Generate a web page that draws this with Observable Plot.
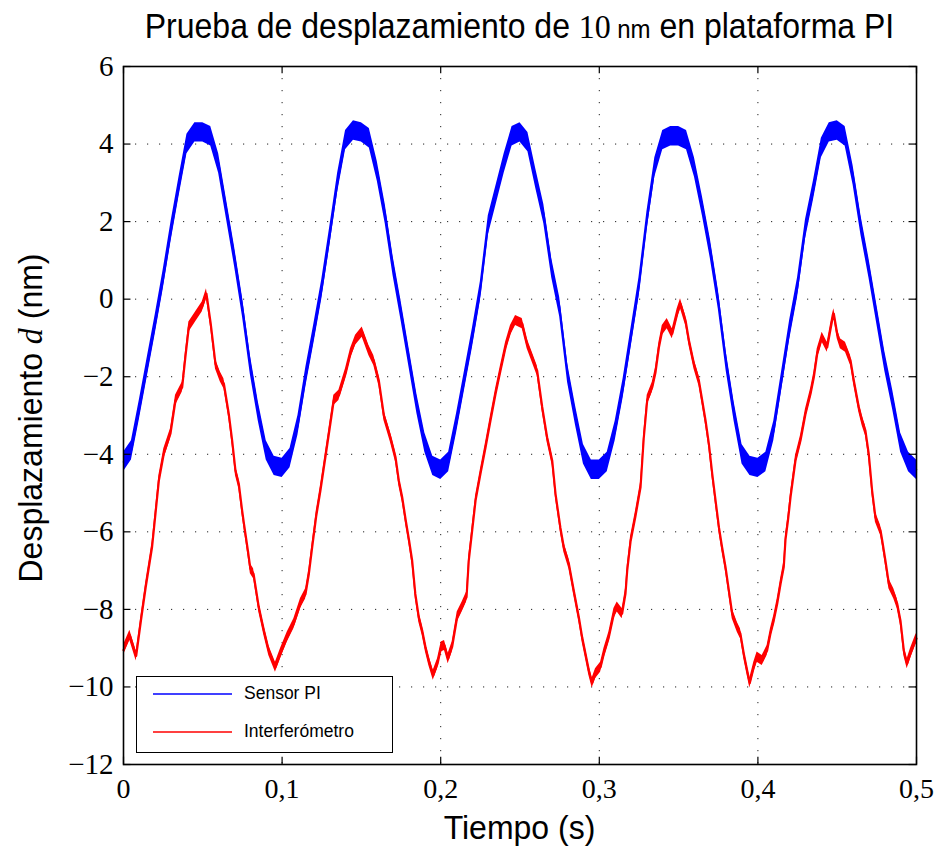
<!DOCTYPE html>
<html><head><meta charset="utf-8">
<script src="https://cdn.jsdelivr.net/npm/d3@7"></script>
<script src="https://cdn.jsdelivr.net/npm/@observablehq/plot@0.6"></script>
<style>
body{margin:0;background:#fff;}
#wrap{position:relative;width:939px;height:848px;overflow:hidden;background:#fff;}
#chart{position:absolute;left:0;top:0;}
.lbl{position:absolute;white-space:nowrap;font-family:"Liberation Sans",Arial,sans-serif;color:#000;}
#title{left:519.5px;top:27px;transform:translate(-50%,-50%) scaleY(1.08);font-size:32px;}
#xlab{left:519.5px;top:828px;transform:translate(-50%,-50%) scaleY(1.05);font-size:32px;}
#ylab{left:31px;top:418px;transform:translate(-50%,-50%) rotate(-90deg) scaleY(1.05);font-size:32px;}
.serif{font-family:"Liberation Serif","Times New Roman",serif;}
#legend{position:absolute;left:136px;top:676px;width:255px;height:75px;border:1.5px solid #000;background:#fff;}
.lrow{position:absolute;left:0;height:20px;}
.lrow svg{position:absolute;left:16px;top:0;}
.lrow span{position:absolute;left:107px;top:-1px;font-family:"Liberation Sans",Arial,sans-serif;font-size:17.5px;white-space:nowrap;}
</style></head>
<body>
<div id="wrap">
<div id="chart"></div>
<div id="title" class="lbl">Prueba de desplazamiento de <span class="serif">10</span>&#8201;<span style="font-size:24px">nm</span> en plataforma PI</div>
<div id="ylab" class="lbl">Desplazamiento <span class="serif" style="font-style:italic">d</span> (nm)</div>
<div id="xlab" class="lbl">Tiempo (s)</div>
<div id="legend"></div>
</div>
<script>
// ---- data ----
const seriesNames = ["Sensor PI", "Interferómetro"];
const seriesColors = ["#0000ff", "#ff0000"];
const xTicks = [0, 0.1, 0.2, 0.3, 0.4, 0.5];
const yTicks = [-12, -10, -8, -6, -4, -2, 0, 2, 4, 6];
const xTickLabels = ["0", "0,1", "0,2", "0,3", "0,4", "0,5"];
const yTickLabels = ["−12", "−10", "−8", "−6", "−4", "−2", "0", "2", "4", "6"];

const sensorTime = [0,0.005,0.01,0.015,0.02,0.025,0.03,0.035,0.04,0.045,0.05,0.055,0.06,0.065,0.07,0.075,0.08,0.085,0.09,0.095,
0.1,0.105,0.11,0.115,0.12,0.125,0.13,0.135,0.14,0.145,0.15,0.155,0.16,0.165,0.17,0.175,0.18,0.185,0.19,0.195,
0.2,0.205,0.21,0.215,0.22,0.225,0.23,0.235,0.24,0.245,0.25,0.255,0.26,0.265,0.27,0.275,0.28,0.285,0.29,0.295,
0.3,0.305,0.31,0.315,0.32,0.325,0.33,0.335,0.34,0.345,0.35,0.355,0.36,0.365,0.37,0.375,0.38,0.385,0.39,0.395,
0.4,0.405,0.41,0.415,0.42,0.425,0.43,0.435,0.44,0.445,0.45,0.455,0.46,0.465,0.47,0.475,0.48,0.485,0.49,0.495,0.5];
const sensorValue = [-4.2,-3.9,-2.85,-1.75,-0.65,0.5,1.75,2.9,4.0,4.3,4.3,4.2,3.5,2.3,1.1,-0.2,-1.7,-2.9,-3.9,-4.3,
-4.35,-4.1,-3.25,-2.0,-0.9,0.25,1.6,3.0,4.1,4.35,4.3,4.15,3.3,2.2,0.85,-0.3,-1.5,-2.7,-3.7,-4.3,
-4.4,-4.2,-3.2,-2.1,-1.0,0.2,1.9,2.7,3.5,4.2,4.3,4.05,3.1,2.2,0.8,-0.2,-1.9,-3.0,-4.0,-4.4,
-4.4,-4.2,-3.4,-2.3,-1.0,0.3,2.0,3.4,4.1,4.2,4.2,4.1,3.4,2.4,1.3,0.0,-1.6,-2.9,-4.0,-4.3,
-4.35,-4.2,-3.4,-2.1,-0.8,0.3,1.8,2.8,3.9,4.3,4.35,4.2,3.2,1.9,0.8,-0.4,-1.6,-2.6,-3.7,-4.2,-4.4];
const sensorNoise = 0.25;

const interfTime = [0,0.004,0.008,0.011,0.014,0.018,0.0223,0.0254,0.0296,0.0328,0.037,0.039,0.0412,0.0454,0.0496,0.0523,0.055,0.058,0.061,0.0633,
0.0664,0.0685,0.0706,0.0727,0.0748,0.076,0.0785,0.08,0.082,0.0853,0.0885,0.0916,0.0958,0.099,0.1032,0.1074,0.1116,0.1148,0.1169,0.119,
0.1215,0.1242,0.1295,0.1326,0.1358,0.14,0.1431,0.1463,0.1505,0.1547,0.1578,0.161,0.1642,0.1683,0.1715,0.1736,0.1757,0.178,0.18,0.182,
0.184,0.1862,0.1883,0.1904,0.1925,0.1953,0.198,0.2003,0.2024,0.2047,0.2072,0.2104,0.2135,0.2163,0.2177,0.2199,0.222,0.2251,0.2283,0.2314,
0.2346,0.2377,0.2409,0.244,0.2472,0.2514,0.2545,0.2577,0.2608,0.264,0.2671,0.2703,0.2724,0.2755,0.2776,0.2808,0.2839,0.2871,0.2892,0.2913,
0.2934,0.2955,0.2976,0.3008,0.3029,0.306,0.3092,0.3113,0.3144,0.3165,0.3176,0.3197,0.3228,0.326,0.328,0.3302,0.3334,0.3354,0.3376,0.3397,
0.3428,0.346,0.3491,0.3512,0.3544,0.3565,0.3597,0.3628,0.3649,0.367,0.3691,0.3712,0.3733,0.3755,0.3774,0.3796,0.3817,0.3838,0.387,0.389,
0.3911,0.3932,0.3949,0.3974,0.3995,0.4027,0.4058,0.4079,0.41,0.4122,0.4143,0.4163,0.4174,0.419,0.4206,0.4237,0.4269,0.43,0.4332,0.4353,
0.4374,0.4405,0.4437,0.4468,0.4479,0.45,0.452,0.4552,0.4584,0.4605,0.4636,0.4657,0.4678,0.4699,0.472,0.4741,0.4773,0.4784,0.4804,0.4826,
0.4857,0.4878,0.4899,0.492,0.4941,0.4962,0.4994,0.5];
const interfValue = [-9.05,-8.67,-9.2,-8.29,-7.43,-6.4,-4.68,-3.99,-3.47,-2.61,-2.27,-1.5,-0.72,-0.46,-0.2,0.14,-0.63,-1.67,-2.0,-2.18,
-2.96,-3.64,-4.42,-4.76,-5.45,-5.8,-6.5,-6.95,-7.08,-7.94,-8.54,-9.06,-9.49,-9.14,-8.72,-8.37,-7.85,-7.6,-7.08,-6.39,
-5.6,-4.93,-3.47,-2.61,-2.48,-1.92,-1.41,-1.06,-0.85,-1.32,-1.58,-2.1,-3.0,-3.56,-4.07,-4.68,-5.1,-5.71,-6.2,-6.74,
-7.6,-8.2,-8.54,-8.97,-9.32,-9.7,-9.4,-8.97,-8.93,-9.27,-8.97,-8.2,-7.94,-7.68,-6.74,-5.95,-5.19,-4.5,-3.82,-3.13,
-2.44,-1.84,-1.24,-0.81,-0.55,-0.63,-1.15,-1.5,-1.84,-2.78,-3.56,-4.16,-5.02,-5.9,-6.39,-6.82,-7.51,-8.2,-8.72,-9.14,
-9.57,-9.9,-9.66,-9.49,-9.14,-8.72,-8.11,-7.94,-8.11,-7.6,-7.0,-6.25,-5.6,-4.85,-3.6,-2.61,-2.27,-1.9,-1.24,-0.81,
-0.63,-0.89,-0.38,-0.12,-0.55,-1.06,-1.67,-2.1,-2.61,-3.13,-3.73,-4.5,-5.19,-5.9,-6.39,-6.91,-7.51,-8.11,-8.46,-8.63,
-9.14,-9.57,-9.9,-9.49,-9.23,-9.32,-9.06,-8.63,-8.29,-7.85,-7.34,-6.91,-6.2,-5.7,-5.1,-4.16,-3.64,-2.96,-2.44,-2.01,
-1.41,-0.98,-1.24,-0.55,-0.38,-0.89,-1.15,-1.24,-1.58,-2.1,-2.78,-3.13,-3.39,-3.99,-4.93,-5.62,-5.96,-6.22,-6.74,-7.34,
-7.6,-7.85,-8.29,-9.06,-9.4,-9.14,-8.8,-8.75];
const interfNoise = 0.13;

// ---- build tables ----
const sensor = sensorTime.map((t, i) => ({t, v: sensorValue[i]}));
const interf = interfTime.map((t, i) => ({t, v: interfValue[i]}));
const xGrid = xTicks.slice(1, -1);
const yGrid = yTicks.slice(1, -1);
const xLab = new Map(xTicks.map((d, i) => [d, xTickLabels[i]]));
const yLab = new Map(yTicks.map((d, i) => [d, yTickLabels[i]]));

const X0 = 0, X1 = 0.5, Y0 = -12, Y1 = 6;
const tickLenX = 0.0047, tickLenY = 0.19;
const serif = "'Liberation Serif','Times New Roman',serif";

const chart = Plot.plot({
  width: 939, height: 848,
  marginLeft: 123, marginRight: 23, marginTop: 66, marginBottom: 84,
  style: {background: "white", overflow: "visible"},
  x: {domain: [X0, X1]},
  y: {domain: [Y0, Y1]},
  marks: [
    Plot.ruleX(xGrid, {stroke: "#222", strokeWidth: 1, strokeDasharray: "1.2,10.8"}),
    Plot.ruleY(yGrid, {stroke: "#222", strokeWidth: 1, strokeDasharray: "1.2,10.8"}),
    Plot.areaY(sensor, {x: "t", y1: d => d.v - sensorNoise, y2: d => d.v + sensorNoise, fill: seriesColors[0], curve: "linear"}),
    Plot.line(sensor, {x: "t", y: "v", stroke: seriesColors[0], strokeWidth: 1.6}),
    Plot.areaY(interf, {x: "t", y1: d => d.v - interfNoise, y2: d => d.v + interfNoise, fill: seriesColors[1], curve: "linear"}),
    Plot.line(interf, {x: "t", y: "v", stroke: seriesColors[1], strokeWidth: 2.2}),
    // inward ticks on all four sides
    Plot.ruleX(xTicks, {y1: Y0, y2: Y0 + tickLenY, stroke: "black", strokeWidth: 1.2}),
    Plot.ruleX(xTicks, {y1: Y1, y2: Y1 - tickLenY, stroke: "black", strokeWidth: 1.2}),
    Plot.ruleY(yTicks, {x1: X0, x2: X0 + tickLenX, stroke: "black", strokeWidth: 1.2}),
    Plot.ruleY(yTicks, {x1: X1, x2: X1 - tickLenX, stroke: "black", strokeWidth: 1.2}),
    Plot.frame({stroke: "black", strokeWidth: 1.6}),
    Plot.axisX(xTicks, {tickSize: 0, tickPadding: 14, tickFormat: d => xLab.get(d), fontSize: 28, fontFamily: serif, label: null}),
    Plot.axisY(yTicks, {tickSize: 0, tickPadding: 10, tickFormat: d => yLab.get(d), fontSize: 29, fontFamily: serif, label: null})
  ]
});
chart.style.color = "black";
document.getElementById("chart").appendChild(chart);

// stretch tick labels vertically to match the reference's tall digits
chart.querySelectorAll('g[aria-label="x-axis tick label"] text, g[aria-label="y-axis tick label"] text').forEach(t => {
  if (!t.getAttribute("transform")) {
    t.style.transformBox = "fill-box";
    t.style.transformOrigin = "center";
    t.style.transform = "scaleY(1.2)";
  }
});

// legend (HTML overlay)
const legend = document.getElementById("legend");
seriesNames.forEach((name, i) => {
  const row = document.createElement("div");
  row.className = "lrow";
  row.style.top = (i === 0 ? 7 : 45) + "px";
  row.innerHTML = `<svg width="80" height="20"><line x1="0" x2="79" y1="10" y2="10" stroke="${seriesColors[i]}" stroke-width="1.3"/></svg><span>${name}</span>`;
  legend.appendChild(row);
});
</script>
</body></html>
